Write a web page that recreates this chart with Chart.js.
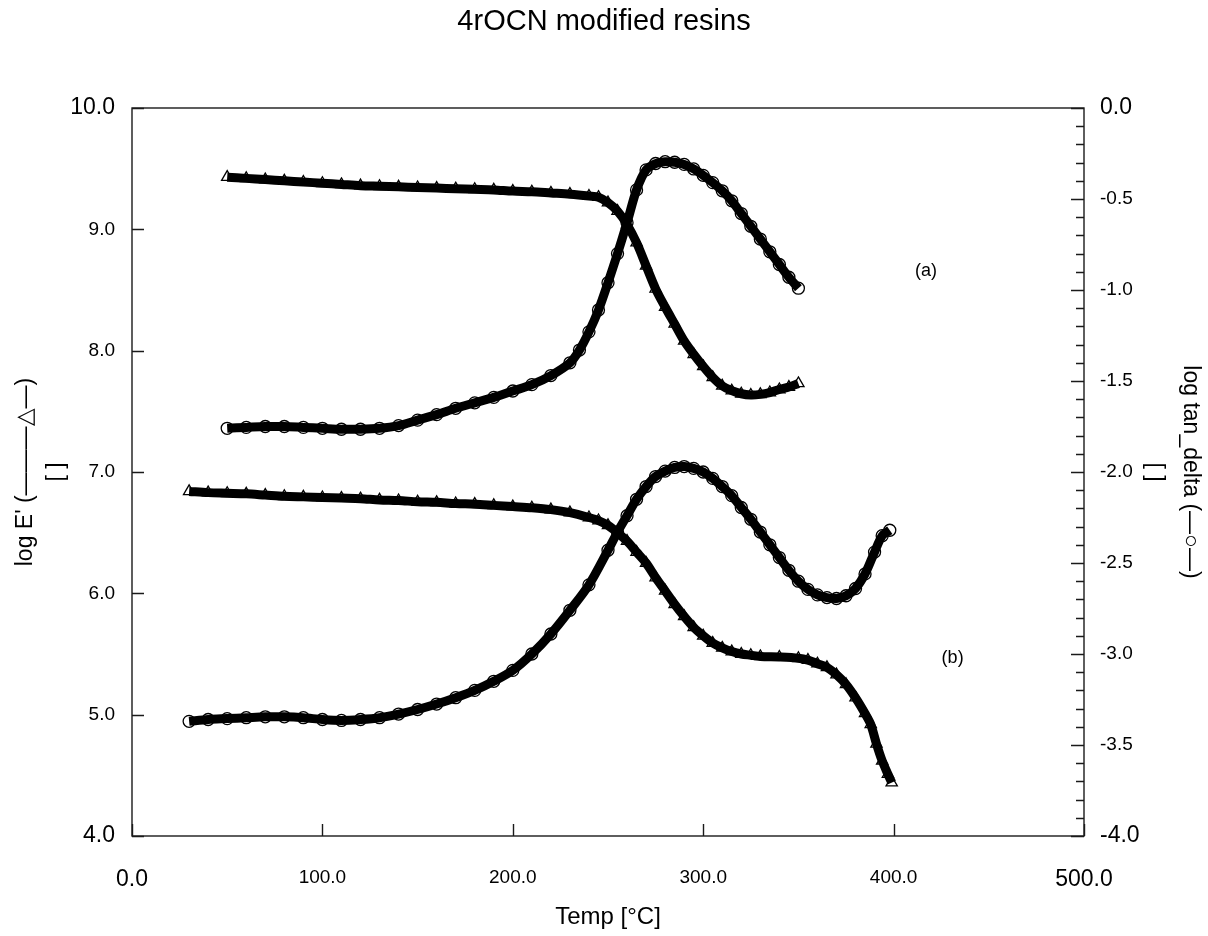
<!DOCTYPE html>
<html>
<head>
<meta charset="utf-8">
<script src="https://cdn.jsdelivr.net/npm/chart.js@4/dist/chart.umd.min.js"></script>
<style>
html,body{margin:0;padding:0;background:#fff;}
#wrap{width:1208px;height:936px;}
</style>
</head>
<body>
<div id="wrap"><canvas id="c" width="1208" height="936"></canvas></div>
<script>
// ---- data ----
// (a) storage modulus, log E' (left axis)
const tempEA = [50,60,70,80,90,100,110,120,130,140,150,160,170,180,190,200,210,220,230,240,245,250,255,260,265,270,275,280,285,290,295,300,305,310,315,320,325,330,335,340,345,350];
const logEA  = [9.43,9.42,9.41,9.40,9.39,9.38,9.37,9.36,9.355,9.35,9.345,9.34,9.335,9.33,9.325,9.315,9.31,9.30,9.29,9.275,9.265,9.22,9.15,9.04,8.89,8.70,8.51,8.36,8.22,8.08,7.97,7.87,7.78,7.71,7.67,7.645,7.635,7.64,7.655,7.68,7.70,7.73];
// (a) log tan_delta (right axis)
const tempTanA = [50,60,70,80,90,100,110,120,130,140,150,160,170,180,190,200,210,220,230,235,240,245,250,255,260,265,270,275,280,285,290,295,300,305,310,315,320,325,330,335,340,345,350];
const logTanA  = [-1.76,-1.755,-1.75,-1.75,-1.755,-1.76,-1.765,-1.765,-1.76,-1.745,-1.715,-1.685,-1.65,-1.62,-1.59,-1.555,-1.52,-1.47,-1.40,-1.33,-1.23,-1.11,-0.96,-0.80,-0.63,-0.45,-0.34,-0.305,-0.295,-0.298,-0.31,-0.335,-0.37,-0.41,-0.455,-0.51,-0.58,-0.65,-0.72,-0.79,-0.86,-0.93,-0.99];
// (b) log E' (left axis)
const tempEB = [30,40,50,60,70,80,90,100,110,120,130,140,150,160,170,180,190,200,210,220,230,240,245,250,255,260,265,270,275,280,285,290,295,300,305,310,315,320,325,330,340,350,355,360,365,370,375,380,385,388,391,394,397,399];
const logEB  = [6.84,6.83,6.825,6.82,6.81,6.80,6.795,6.79,6.785,6.78,6.77,6.765,6.755,6.75,6.74,6.735,6.725,6.715,6.705,6.69,6.665,6.625,6.60,6.56,6.50,6.43,6.34,6.25,6.13,6.02,5.91,5.81,5.72,5.65,5.59,5.55,5.52,5.50,5.49,5.48,5.475,5.465,5.45,5.42,5.39,5.33,5.25,5.14,5.01,4.92,4.76,4.62,4.51,4.44];
// (b) log tan_delta (right axis)
const tempTanB = [30,40,50,60,70,80,90,100,110,120,130,140,150,160,170,180,190,200,210,220,230,240,250,255,260,265,270,275,280,285,290,295,300,305,310,315,320,325,330,335,340,345,350,355,360,365,370,375,380,385,390,394,398];
const logTanB  = [-3.37,-3.36,-3.355,-3.35,-3.345,-3.345,-3.35,-3.36,-3.365,-3.36,-3.35,-3.33,-3.305,-3.275,-3.24,-3.20,-3.15,-3.09,-3.00,-2.89,-2.76,-2.62,-2.43,-2.33,-2.24,-2.15,-2.08,-2.025,-1.995,-1.975,-1.97,-1.98,-2.00,-2.035,-2.08,-2.13,-2.195,-2.26,-2.33,-2.40,-2.47,-2.54,-2.60,-2.645,-2.675,-2.69,-2.695,-2.68,-2.64,-2.56,-2.44,-2.35,-2.32];

// axis limits and labels
const xLimits = [0, 500];
const yLimits = [4, 10];
const y2Limits = [-4, 0];
const titleText = '4rOCN modified resins';
const xTitle = 'Temp [°C]';
const yTitle = ["log E' (———\u25B3—)", '[ ]'];
const y2Title = ['log tan_delta (—\u25CB—)', '[ ]'];
const labelTexts = ['(a)', '(b)'];
const labelX = [417, 431];
const labelY = [8.66, 5.47];

// ---- helpers ----
const FONT = "'Liberation Sans', Arial, Helvetica, sans-serif";
const pts = (xs, ys) => xs.map((x, i) => ({x: x, y: ys[i]}));
const edgeFont = (lims) => (ctx) => {
  const v = ctx.tick ? ctx.tick.value : null;
  const big = v !== null && (Math.abs(v - lims[0]) < 1e-6 || Math.abs(v - lims[1]) < 1e-6);
  return {family: FONT, size: big ? 23 : 19};
};

const frameTicks = {
  id: 'frameTicks',
  afterDraw(chart) {
    const {ctx, chartArea: a, scales} = chart;
    ctx.save();
    ctx.strokeStyle = '#1a1a1a';
    ctx.lineWidth = 1.4;
    ctx.strokeRect(a.left, a.top, a.right - a.left, a.bottom - a.top);
    ctx.beginPath();
    scales.y.ticks.forEach(t => {
      const p = Math.round(scales.y.getPixelForValue(t.value)) + 0.5;
      ctx.moveTo(a.left, p); ctx.lineTo(a.left + 12, p);
    });
    scales.x.ticks.forEach(t => {
      const p = Math.round(scales.x.getPixelForValue(t.value)) + 0.5;
      ctx.moveTo(p, a.bottom); ctx.lineTo(p, a.bottom - 12);
    });
    scales.y2.ticks.forEach(t => {
      const p = Math.round(scales.y2.getPixelForValue(t.value)) + 0.5;
      const major = Math.round(t.value * 10) % 5 === 0;
      ctx.moveTo(a.right, p); ctx.lineTo(a.right - (major ? 13 : 8), p);
    });
    ctx.stroke();
    // panel labels
    ctx.fillStyle = '#000';
    ctx.font = '18px ' + FONT;
    ctx.textAlign = 'center';
    ctx.textBaseline = 'middle';
    labelTexts.forEach((s, i) => {
      ctx.fillText(s, scales.x.getPixelForValue(labelX[i]), scales.y.getPixelForValue(labelY[i]));
    });
    ctx.restore();
  }
};

const common = {
  showLine: true,
  borderColor: '#000',
  borderWidth: 9,
  pointBorderColor: '#000',
  pointBackgroundColor: 'rgba(255,255,255,0)',
  pointBorderWidth: 1.3,
  tension: 0.3
};

new Chart(document.getElementById('c'), {
  type: 'scatter',
  data: {
    datasets: [
      Object.assign({label: "log E' (a)", data: pts(tempEA, logEA), yAxisID: 'y', pointStyle: 'triangle', pointRadius: 6.5}, common),
      Object.assign({label: 'log tan_delta (a)', data: pts(tempTanA, logTanA), yAxisID: 'y2', pointStyle: 'circle', pointRadius: 6}, common),
      Object.assign({label: "log E' (b)", data: pts(tempEB, logEB), yAxisID: 'y', pointStyle: 'triangle', pointRadius: 6.5}, common),
      Object.assign({label: 'log tan_delta (b)', data: pts(tempTanB, logTanB), yAxisID: 'y2', pointStyle: 'circle', pointRadius: 6}, common)
    ]
  },
  options: {
    responsive: false,
    devicePixelRatio: 1,
    animation: false,
    layout: {padding: 0},
    plugins: {
      legend: {display: false},
      tooltip: {enabled: false},
      title: {
        display: true,
        text: titleText,
        color: '#000',
        font: {family: FONT, size: 29, weight: 'normal', lineHeight: 1.2},
        padding: {top: 5, bottom: 68.2}
      }
    },
    scales: {
      x: {
        type: 'linear', position: 'bottom',
        min: xLimits[0], max: xLimits[1],
        grid: {display: false},
        border: {display: false},
        ticks: {stepSize: 100, color: '#000', padding: 22, font: edgeFont(xLimits), callback: v => v.toFixed(1), maxRotation: 0},
        title: {display: true, text: xTitle, color: '#000', font: {family: FONT, size: 24, lineHeight: 1.2}, padding: {top: 0, bottom: 4}},
        afterFit: s => { s.height = 100; }
      },
      y: {
        type: 'linear', position: 'left',
        min: yLimits[0], max: yLimits[1],
        grid: {display: false},
        border: {display: false},
        ticks: {stepSize: 1, color: '#000', padding: 9, font: edgeFont(yLimits), callback: v => v.toFixed(1)},
        title: {display: true, text: yTitle, color: '#000', font: {family: FONT, size: 23, lineHeight: 1.35}, padding: {top: 10, bottom: 0}},
        afterFit: s => { s.width = 132; }
      },
      y2: {
        type: 'linear', position: 'right',
        min: y2Limits[0], max: y2Limits[1],
        grid: {display: false},
        border: {display: false},
        ticks: {
          stepSize: 0.1, autoSkip: false, color: '#000', padding: 8, font: edgeFont(y2Limits),
          callback: v => { const r = Math.round(v * 10); return r % 5 === 0 ? (r / 10).toFixed(1) : ''; }
        },
        title: {display: true, text: y2Title, color: '#000', font: {family: FONT, size: 23, lineHeight: 1.55}, padding: {top: 0, bottom: 0}},
        afterFit: s => { s.width = 124; }
      }
    }
  },
  plugins: [frameTicks]
});
</script>
</body>
</html>
